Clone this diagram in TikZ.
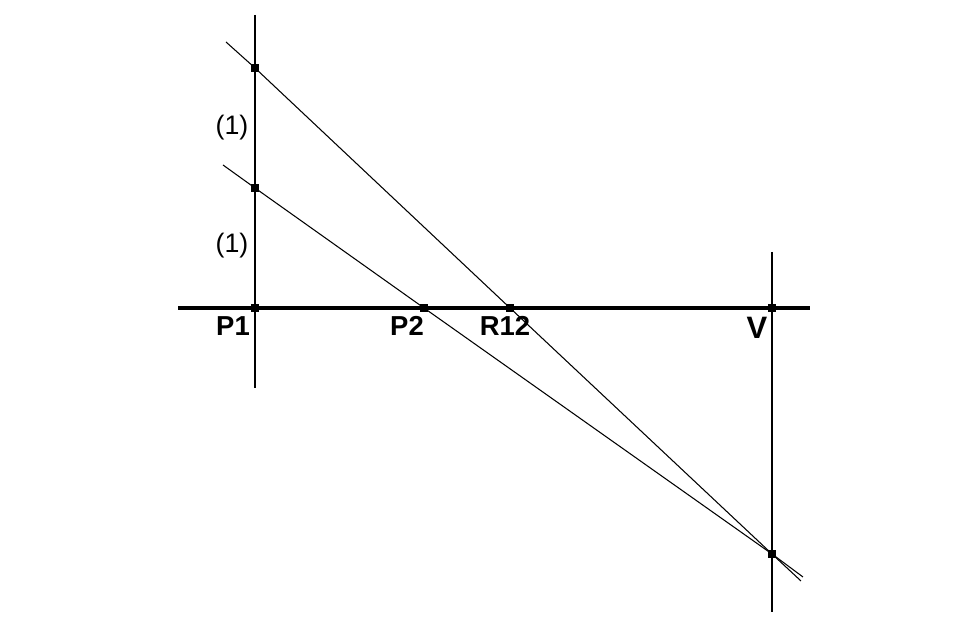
\documentclass[tikz,border=0pt]{standalone}
\usepackage{fontspec}
\setmainfont{Liberation Sans}
\begin{document}
\begin{tikzpicture}[x=0.01cm, y=-0.01cm,
        pt/.style={fill=black, inner sep=0pt, minimum size=0.08cm},
        lbl/.style={font=\fontsize{7.8}{9}\selectfont\bfseries},
        unit/.style={font=\fontsize{7.6}{9}\selectfont}]
            \useasboundingbox (0, 0) rectangle (975, 625);
            % points
            \coordinate (A) at (255, 68);
            \coordinate (B) at (255, 188);
            \coordinate (P1) at (255, 308);
            \coordinate (P2) at (424, 308);
            \coordinate (R12) at (510, 308);
            \coordinate (V) at (772, 308);
            \coordinate (W) at (772, 554);
            \coordinate (a0) at (226, 42);
            \coordinate (a1) at (801, 581);
            \coordinate (b0) at (223, 165);
            \coordinate (b1) at (803, 577);
            % axes
            \draw[line width=0.9pt] (178, 308) coordinate (h0) -- (810, 308) coordinate (h1);
            \draw[line width=0.45pt] (255, 15) coordinate (v0) -- (255, 388) coordinate (v1);
            \draw[line width=0.45pt] (772, 252) coordinate (w0) -- (772, 612) coordinate (w1);
            % rays
            \draw[line width=0.3pt] (a0) -- (A) -- (R12) -- (W) -- (a1);
            \draw[line width=0.3pt] (b0) -- (B) -- (P2) -- (W) -- (b1);
            \foreach \p in {A, B, P1, P2, R12, V, W}
                \node[pt] at (\p) {};
            \node[unit] (u1) at (232, 128) {(1)};
            \node[unit] (u2) at (232, 246) {(1)};
            \node[lbl] (lP1) at (233, 326) {P1};
            \node[lbl] (lP2) at (407, 326) {P2};
            \node[lbl] (lR12) at (505, 326) {R12};
            \node[lbl, font=\fontsize{8.8}{10}\selectfont\bfseries] (lV) at (757, 328) {V};
        \end{tikzpicture}
\end{document}
